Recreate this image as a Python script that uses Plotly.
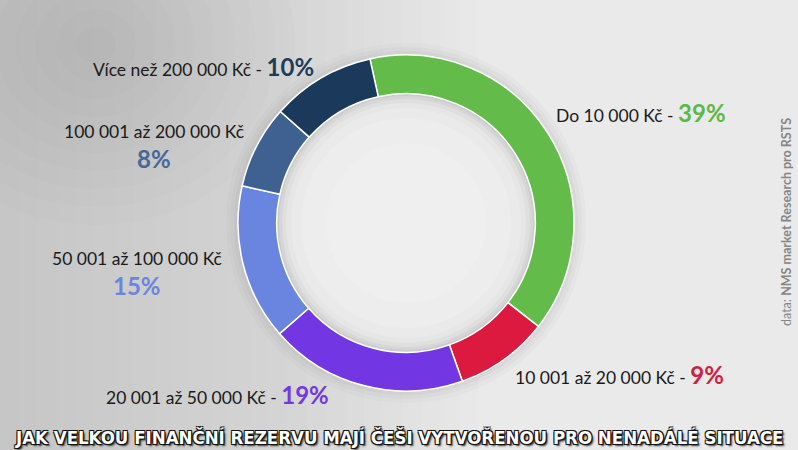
import plotly.graph_objects as go

# rezerva (podíl respondentů), ve směru hodinových ručiček od 12 hodin
categories = ["Do 10 000 Kč", "10 001 až 20 000 Kč", "20 001 až 50 000 Kč",
              "50 001 až 100 000 Kč", "100 001 až 200 000 Kč", "Více než 200 000 Kč"]
shares = [39, 9, 19, 15, 8, 10]
colors = ["#63BB4A", "#DC1A3F", "#7237E3", "#6A85DF", "#3F6192", "#1B3A5B"]
pct_colors = ["#5DB847", "#D81B40", "#7237E3", "#6A85DF", "#46679A", "#1F3B5C"]

title = "JAK VELKOU FINANČNÍ REZERVU MAJÍ ČEŠI VYTVOŘENOU PRO NENADÁLÉ SITUACE"
source = "data: <b>NMS market Research pro RSTS</b>"

W, H = 798, 450
cx, cy, R = 406, 223, 168

fig = go.Figure()
fig.add_trace(go.Pie(
    labels=categories, values=shares, sort=False, direction="clockwise",
    rotation=-12.4, hole=0.77, textinfo="none", hoverinfo="label+percent",
    marker=dict(colors=colors, line=dict(color="white", width=1.5)),
    domain=dict(x=[(cx - R) / W, (cx + R) / W], y=[1 - (cy + R) / H, 1 - (cy - R) / H]),
    showlegend=False,
))

def pct(i):
    return '<b><span style="font-size:24px;color:%s">%d%%</span></b>' % (pct_colors[i], shares[i])

def px(x, y):
    return x / W, 1 - y / H

ann = []
lab = dict(size=17.5, color="#1a1a1a", family="Lato, sans-serif")
items = [
    (categories[0] + " - " + pct(0), 554, 112, "left"),
    (categories[1] + " - " + pct(1), 513, 374, "left"),
    (categories[2] + " - " + pct(2), 331, 394, "right"),
    (categories[3], 137, 258, "center"),
    (pct(3), 137, 285, "center"),
    (categories[4], 154, 131, "center"),
    (pct(4), 154, 158, "center"),
    (categories[5] + " - " + pct(5), 316, 66, "right"),
]
for t, x, y, a in items:
    xx, yy = px(x, y)
    ann.append(dict(text=t, x=xx, y=yy, xref="paper", yref="paper", xanchor=a,
                    yanchor="middle", showarrow=False, font=lab))

xx, yy = px(399, 437)
ann.append(dict(text=title, x=xx, y=yy, xref="paper", yref="paper", showarrow=False,
                xanchor="center", yanchor="middle",
                font=dict(size=18.5, color="white", weight="bold",
                          family="DejaVu Sans Condensed, sans-serif",
                          shadow="1px 1px 0 #111, -1px -1px 0 #111, 1px -1px 0 #111, -1px 1px 0 #111, 2px 2px 2px #333")))
xx, yy = px(786, 222)
ann.append(dict(text=source, x=xx, y=yy, xref="paper", yref="paper", showarrow=False,
                textangle=-90, xanchor="center", yanchor="middle",
                font=dict(size=12.5, color="#858585", family="Lato, sans-serif")))

def circ(r, color, opacity=1.0):
    return dict(type="circle", xref="paper", yref="paper",
                x0=(cx - r) / W, x1=(cx + r) / W, y0=1 - (cy + r) / H, y1=1 - (cy - r) / H,
                fillcolor=color, opacity=opacity, line_width=0, layer="below")

shapes = []
# soft background: darker towards the left side
n = 25
for k in range(1, n + 1):
    shapes.append(dict(type="rect", xref="paper", yref="paper", x0=0, x1=0.6 * k / n,
                       y0=0, y1=1, fillcolor="#9a9a9a", opacity=0.022, line_width=0,
                       layer="below"))
# darker blob top-left
for k in range(1, 11):
    shapes.append(dict(type="circle", xref="paper", yref="paper",
                       x0=0.12 - 0.025 * k, x1=0.12 + 0.025 * k,
                       y0=0.9 - 0.04 * k, y1=0.9 + 0.04 * k,
                       fillcolor="#8a8a8a", opacity=0.025, line_width=0, layer="below"))
# shadow around the ring
for r, op in [(180, 0.04), (176, 0.06), (172, 0.08)]:
    shapes.append(circ(r, "#888888", op))
# hole with inner shadow
for r, c in [(129, "#cccccc"), (127, "#d6d6d6"), (124, "#dfdfdf"), (120, "#e6e6e6"),
             (115, "#eaeaea"), (105, "#ededed"), (80, "#efefef")]:
    shapes.append(circ(r, c))

fig.update_layout(width=W, height=H, margin=dict(l=0, r=0, t=0, b=0),
                  paper_bgcolor="#eaeaea", plot_bgcolor="#eaeaea",
                  annotations=ann, shapes=shapes)
fig.write_html("out.html", config={"displayModeBar": False},
               post_script="document.body.style.margin='0';")
